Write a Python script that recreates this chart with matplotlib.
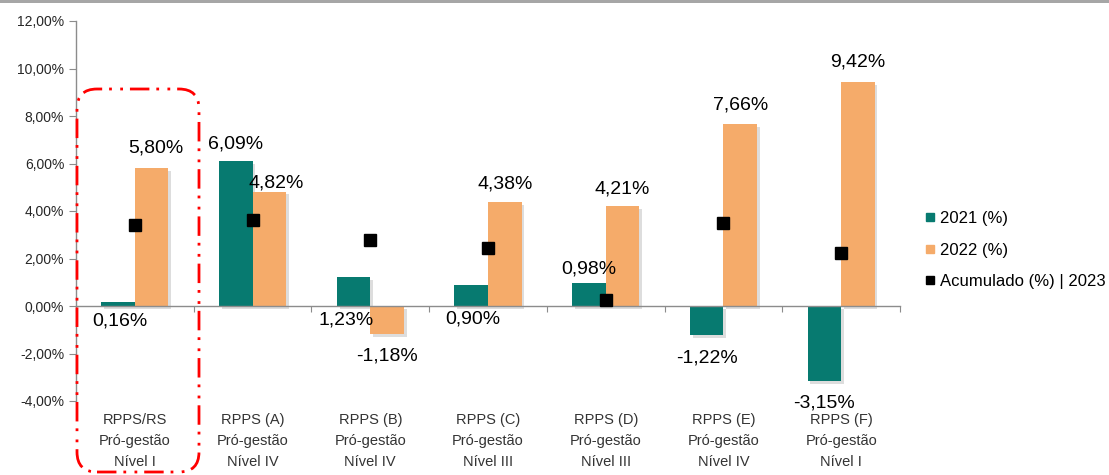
import numpy as np
import matplotlib
matplotlib.use("Agg")
from matplotlib import pyplot as plt
from matplotlib import patheffects as pe
from matplotlib.lines import Line2D
from matplotlib.patches import FancyBboxPatch, Rectangle
from matplotlib.ticker import FuncFormatter
import matplotlib.transforms as mtransforms

plt.rcParams['font.family'] = ['Liberation Sans', 'DejaVu Sans']

# data
categories = ["RPPS/RS\nPró-gestão\nNível I",
              "RPPS (A)\nPró-gestão\nNível IV",
              "RPPS (B)\nPró-gestão\nNível IV",
              "RPPS (C)\nPró-gestão\nNível III",
              "RPPS (D)\nPró-gestão\nNível III",
              "RPPS (E)\nPró-gestão\nNível IV",
              "RPPS (F)\nPró-gestão\nNível I"]
v2021 = [0.16, 6.09, 1.23, 0.90, 0.98, -1.22, -3.15]
v2022 = [5.80, 4.82, -1.18, 4.38, 4.21, 7.66, 9.42]
acum2023 = [3.42, 3.62, 2.79, 2.44, 0.25, 3.50, 2.23]
series_names = ["2021 (%)", "2022 (%)", "Acumulado (%) | 2023"]

teal = '#077A70'
orange = '#F5AB6A'

# label offsets in pixels (dx, dy), anchored at the bar end or at the zero line
off2021 = [(2, -15, 'zero'), (0, 17, 'end'), (-7, -14, 'zero'), (2, -13, 'zero'),
           (0, 14, 'end'), (0, -23, 'end'), (0, -22, 'end')]
off2022 = [(4, 20, 'end'), (7, 9, 'end'), (0, -22, 'end'), (0, 18, 'end'),
           (0, 17, 'end'), (0, 19, 'end'), (0, 20, 'end')]

fig = plt.figure(figsize=(11.09, 4.75), dpi=100)
ax = fig.add_axes([76 / 1109, 74 / 475, 824 / 1109, 380 / 475])

x = np.arange(len(categories)) + 0.5
w = 0.285
shadow = [pe.SimplePatchShadow(offset=(2, -2), shadow_rgbFace='#909090', alpha=0.3), pe.Normal()]
b1 = ax.bar(x - w / 2, v2021, w, color=teal, zorder=2)
b2 = ax.bar(x + w / 2, v2022, w, color=orange, zorder=2)
for b in list(b1) + list(b2):
    b.set_path_effects(shadow)
ax.plot(x, acum2023, 's', color='black', markersize=8, zorder=4, linestyle='none')

def fmt(v):
    return f"{v:.2f}%".replace('.', ',')

for xs, vals, offs in [(x - w / 2, v2021, off2021), (x + w / 2, v2022, off2022)]:
    for xi, v, (dx, dy, anchor) in zip(xs, vals, offs):
        y0 = 0 if anchor == 'zero' else v
        ax.annotate(fmt(v), (xi, y0), xytext=(dx, dy), textcoords='offset pixels',
                    ha='center', va='center', fontsize=14, color='black', zorder=5)

ax.set_xlim(0, len(categories))
ax.set_ylim(-4, 12)
ax.set_yticks(np.arange(-4, 12.1, 2))
ax.yaxis.set_major_formatter(FuncFormatter(lambda v, p: fmt(v)))
ax.set_xticks(np.arange(len(categories) + 1))
ax.set_xticklabels([])
ax.spines['top'].set_visible(False)
ax.spines['right'].set_visible(False)
ax.spines['bottom'].set_position(('data', 0))
for s in ['left', 'bottom']:
    ax.spines[s].set_color('#8c8c8c')
    ax.spines[s].set_linewidth(1)
ax.tick_params(axis='y', colors='#8c8c8c', labelcolor='#262626', labelsize=10, length=5)
ax.tick_params(axis='x', colors='#8c8c8c', length=4, direction='out')

trans = mtransforms.blended_transform_factory(ax.transData, fig.transFigure)
for xi, c in zip(x, categories):
    ax.text(xi, 1 - 441 / 475, c, transform=trans, ha='center', va='center',
            fontsize=10.5, color='#333333', linespacing=1.6)

handles = [Line2D([], [], marker='s', color=teal, linestyle='none', markersize=6),
           Line2D([], [], marker='s', color=orange, linestyle='none', markersize=6),
           Line2D([], [], marker='s', color='black', linestyle='none', markersize=6)]
fig.legend(handles, series_names, loc='center left', bbox_to_anchor=(917 / 1109, 1 - 250 / 475),
           frameon=False, fontsize=12, handlelength=0.6, handletextpad=0.25,
           labelspacing=1.0, borderpad=0)

# top grey band
fig.patches.append(Rectangle((0, 1 - 3 / 475), 1, 3 / 475, transform=fig.transFigure,
                             facecolor='#a6a6a6', edgecolor='none'))

# red highlight box
box = FancyBboxPatch((0.77, 0.03), 1.22, 3.83, boxstyle='round,pad=0,rounding_size=0.2',
                     transform=fig.dpi_scale_trans, facecolor='none', edgecolor='red',
                     linewidth=2, linestyle=(0, (7, 2.5, 1, 3, 1, 2.5)), zorder=10)
fig.patches.append(box)

fig.savefig('out.png', dpi=100)
